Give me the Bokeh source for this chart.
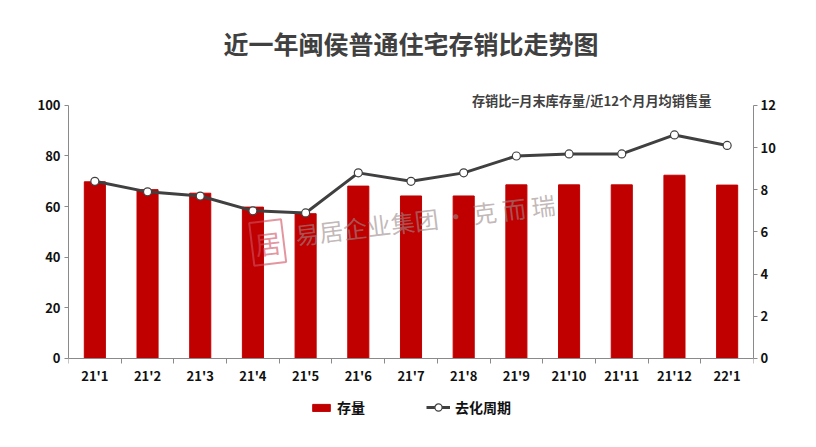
from bokeh.plotting import figure
from bokeh.models import (Range1d, LinearAxis, FixedTicker, Legend, LegendItem, Label)
from bokeh.embed import file_html
from bokeh.resources import INLINE

# ---- data ----
months = ["21'1", "21'2", "21'3", "21'4", "21'5", "21'6", "21'7",
          "21'8", "21'9", "21'10", "21'11", "21'12", "22'1"]
stock = [69.8, 66.7, 65.3, 59.8, 57.2, 68.1, 64.2, 64.2, 68.6, 68.6, 68.6, 72.4, 68.5]
cycle = [8.4, 7.9, 7.7, 7.0, 6.9, 8.8, 8.4, 8.8, 9.6, 9.7, 9.7, 10.6, 10.1]
left_ticks = [0, 20, 40, 60, 80, 100]
right_ticks = [0, 2, 4, 6, 8, 10, 12]

title_text = "近一年闽侯普通住宅存销比走势图"
note_text = "存销比=月末库存量/近12个月月均销售量"
bar_name = "存量"
line_name = "去化周期"
watermark = "易居企业集团 · 克  而  瑞"

FONT = "Noto Sans CJK SC"
BAR_C = "#C00000"
LINE_C = "#404040"
AXIS_C = "#8a8a8a"

n = len(months)
idx = list(range(n))

# the frame extends above and below the value range: title, note, axis labels
# and legend all live inside it; the axes are bounded to the value range
Y_TOP = 137.5
Y_BOT = -26.9
RATIO = right_ticks[-1] / left_ticks[-1]

p = figure(width=800, height=431, x_range=Range1d(-0.5, n - 0.5), y_range=Range1d(Y_BOT, Y_TOP),
           x_axis_location=None, y_axis_location=None, toolbar_location=None,
           output_backend="svg", min_border_left=68, min_border_right=47,
           min_border_top=10, min_border_bottom=5)
p.outline_line_color = None
p.grid.visible = False
p.extra_y_ranges = {"r": Range1d(Y_BOT * RATIO, Y_TOP * RATIO)}

def style_axis(ax):
    ax.axis_line_color = AXIS_C
    ax.major_tick_line_color = AXIS_C
    ax.major_tick_in = 0
    ax.major_tick_out = 4
    ax.minor_tick_out = 0
    ax.minor_tick_in = 0
    ax.major_label_text_font = FONT
    ax.major_label_text_font_style = "bold"
    ax.major_label_text_font_size = "13px"
    ax.major_label_text_color = "#111111"

la = LinearAxis(ticker=FixedTicker(ticks=left_ticks), bounds=(left_ticks[0], left_ticks[-1]))
style_axis(la)
la.major_label_standoff = 4
p.add_layout(la, "left")

ra = LinearAxis(y_range_name="r", ticker=FixedTicker(ticks=right_ticks),
                bounds=(right_ticks[0], right_ticks[-1]))
style_axis(ra)
ra.major_label_standoff = 3
p.add_layout(ra, "right")

edges = [i - 0.5 for i in range(n + 1)]
tick_ax = LinearAxis(ticker=FixedTicker(ticks=edges), fixed_location=0)
style_axis(tick_ax)
tick_ax.major_tick_out = 5
tick_ax.major_label_text_font_size = "1px"
tick_ax.major_label_standoff = 0
tick_ax.major_label_overrides = {e: " " for e in edges}
p.add_layout(tick_ax, "below")

cat_ax = LinearAxis(ticker=FixedTicker(ticks=idx), fixed_location=0)
style_axis(cat_ax)
cat_ax.axis_line_color = None
cat_ax.major_tick_line_color = None
cat_ax.major_tick_out = 0
cat_ax.major_label_standoff = 8
cat_ax.major_label_overrides = {i: m for i, m in zip(idx, months)}
p.add_layout(cat_ax, "below")

bars = p.vbar(x=idx, top=stock, width=0.4, color=BAR_C)
ln = p.line(x=idx, y=cycle, y_range_name="r", line_color=LINE_C, line_width=3)
pts = p.scatter(x=idx, y=cycle, y_range_name="r", size=8, fill_color="white",
                line_color=LINE_C, line_width=1.2)

legend_style = dict(orientation="horizontal", label_standoff=5,
                    border_line_color=None, background_fill_alpha=0,
                    label_text_font=FONT, label_text_font_style="bold",
                    label_text_font_size="14px", label_text_color="#111111",
                    padding=8, margin=0)
leg_bar = Legend(items=[LegendItem(label=bar_name, renderers=[bars])],
                 location=(242, 9), glyph_width=22, glyph_height=9, **legend_style)
leg_line = Legend(items=[LegendItem(label=line_name, renderers=[ln, pts])],
                  location=(358, 9), glyph_width=24, glyph_height=18, **legend_style)
p.add_layout(leg_bar, "center")
p.add_layout(leg_line, "center")

p.add_layout(Label(x=6.0, y=124.5, text=title_text, text_align="center", text_baseline="middle",
                   text_font=FONT, text_font_style="bold", text_font_size="25px",
                   text_color="#404040"))
p.add_layout(Label(x=11.7, y=102, text=note_text, text_align="right", text_baseline="middle",
                   text_font=FONT, text_font_style="bold", text_font_size="13.2px",
                   text_color="#404040"))
p.add_layout(Label(x=6.37, y=55.3, text=watermark, text_align="center", text_baseline="middle",
                   angle=0.12, text_font=FONT, text_font_size="24px",
                   text_color="#9a8a8a", text_alpha=0.6))
p.add_layout(Label(x=3.28, y=45.8, text="居", text_align="center", text_baseline="middle",
                   angle=0.12, text_font=FONT, text_font_size="26px",
                   text_color="#d05060", text_alpha=0.6,
                   border_line_color="#d05060", border_line_alpha=0.6, border_line_width=2,
                   padding=3))

open("out.html", "w").write(file_html(p, INLINE))
